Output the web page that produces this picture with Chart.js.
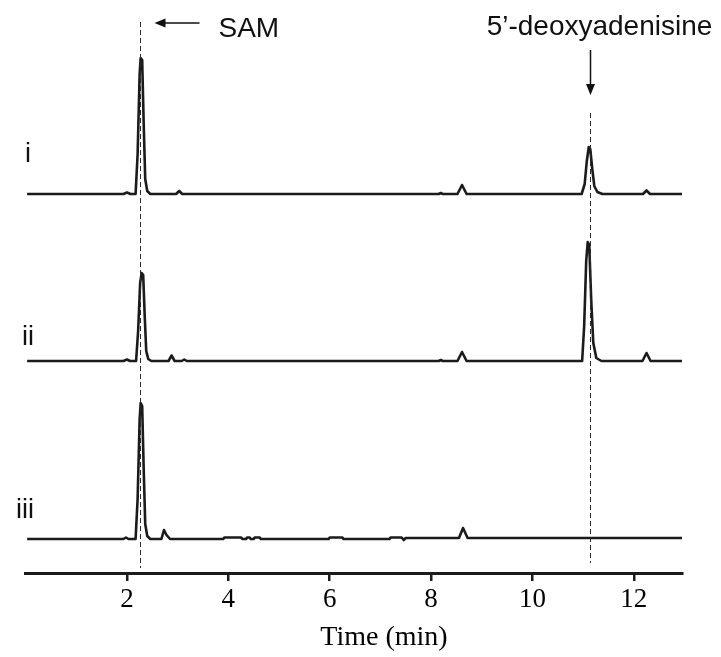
<!DOCTYPE html>
<html>
<head>
<meta charset="utf-8">
<script src="https://cdn.jsdelivr.net/npm/chart.js@4.4.1/dist/chart.umd.min.js"></script>
<style>
  html, body { margin: 0; padding: 0; background: #fff; }
</style>
</head>
<body>
<canvas id="myChart" width="721" height="657"></canvas>
<script>
// retention time (min) and detector signal for each trace
const traceITime = [0.03, 1.93, 2.0, 2.07, 2.17, 2.21, 2.25, 2.27, 2.30, 2.33, 2.36, 2.40, 2.46, 2.97, 3.03, 3.09, 8.15, 8.19, 8.23, 8.52, 8.61, 8.70, 10.97, 11.03, 11.07, 11.11, 11.14, 11.18, 11.22, 11.28, 11.38, 12.18, 12.25, 12.32, 12.95];
const traceISignal = [0, 0, 1.5, 0, 0, 40, 120, 136, 134, 70, 15, 3, 0, 0, 3, 0, 0, 1, 0, 0, 9, 0, 0, 10, 32, 47, 45, 25, 8, 2, 0, 0, 3.5, 0, 0];

const traceIITime = [0.03, 1.93, 2.0, 2.06, 2.18, 2.22, 2.26, 2.29, 2.32, 2.35, 2.38, 2.42, 2.48, 2.82, 2.88, 2.94, 3.08, 3.13, 3.18, 8.15, 8.19, 8.23, 8.52, 8.61, 8.70, 10.98, 11.02, 11.06, 11.09, 11.12, 11.16, 11.20, 11.26, 11.36, 12.17, 12.25, 12.33, 12.95];
const traceIISignal = [0, 0, 1.5, 0, 0, 30, 78, 88, 86, 45, 10, 2, 0, 0, 5.5, 0, 0, 1.5, 0, 0, 1, 0, 0, 9, 0, 0, 35, 100, 119, 116, 60, 18, 3, 0, 0, 8, 0, 0];

const traceIIITime = [0.03, 1.93, 1.98, 2.03, 2.17, 2.21, 2.25, 2.27, 2.30, 2.33, 2.36, 2.40, 2.46, 2.68, 2.73, 2.78, 2.85, 3.9, 3.92, 4.25, 4.28, 4.35, 4.37, 4.42, 4.44, 4.5, 4.52, 4.62, 4.64, 5.98, 6.0, 6.25, 6.27, 7.18, 7.2, 7.42, 7.46, 7.5, 8.55, 8.63, 8.72, 12.95];
const traceIIISignal = [0, 0, 1.5, 0, 0, 40, 120, 136, 133, 70, 15, 3, 0, 0, 9, 4, 0, 0, 1.5, 1.5, 0, 0, 1.5, 1.5, 0, 0, 1.5, 1.5, 0, 0, 1.5, 1.5, 0, 0, 1.5, 1.5, -1, 1, 1, 11, 1, 1];

const tickValues = [2, 4, 6, 8, 10, 12];
const traceLabels = ['i', 'ii', 'iii'];
const markerTimes = [2.26, 11.13];
const markerLabels = ['SAM', '5’-deoxyadenisine'];
const axisTitle = 'Time (min)';

const lineColor = '#1b1b1b';
// vertical offset of each trace so they stack like the figure
const traceBaselines = [379, 212, 34];

function buildPoints(times, signal, offset) {
    return times.map((t, i) => ({ x: t, y: signal[i] + offset }));
}

function getDataSets() {
    const traces = [
        [traceITime, traceISignal],
        [traceIITime, traceIISignal],
        [traceIIITime, traceIIISignal]
    ];
    return traces.map((tr, i) => ({
        label: traceLabels[i],
        data: buildPoints(tr[0], tr[1], traceBaselines[i]),
        borderColor: lineColor,
        borderWidth: 2.6,
        borderJoinStyle: 'round',
        pointRadius: 0,
        tension: 0,
        fill: false
    }));
}

function drawLine(ctx, x1, y1, x2, y2) {
    ctx.beginPath();
    ctx.moveTo(x1, y1);
    ctx.lineTo(x2, y2);
    ctx.stroke();
}

function drawArrow(ctx, x1, y1, x2, y2) {
    //shaft then filled head at (x2,y2)
    const ang = Math.atan2(y2 - y1, x2 - x1);
    const len = 11, half = 4.5;
    ctx.lineWidth = 1.5;
    drawLine(ctx, x1, y1, x2 - Math.cos(ang) * len * 0.6, y2 - Math.sin(ang) * len * 0.6);
    ctx.beginPath();
    ctx.moveTo(x2, y2);
    ctx.lineTo(x2 - Math.cos(ang) * len - Math.sin(ang) * half, y2 - Math.sin(ang) * len + Math.cos(ang) * half);
    ctx.lineTo(x2 - Math.cos(ang) * len + Math.sin(ang) * half, y2 - Math.sin(ang) * len - Math.cos(ang) * half);
    ctx.closePath();
    ctx.fill();
}

const annotationPlugin = {
    id: 'annotations',
    afterDatasetsDraw(chart) {
        const ctx = chart.ctx;
        const xScale = chart.scales.x;
        const samX = Math.round(xScale.getPixelForValue(markerTimes[0])) + 0.5;
        const daX = Math.round(xScale.getPixelForValue(markerTimes[1])) + 0.5;
        ctx.save();
        ctx.strokeStyle = '#2a2a2a';
        ctx.fillStyle = '#111';
        ctx.lineWidth = 1;
        ctx.setLineDash([5, 3]);
        drawLine(ctx, samX, 22, samX, 568);
        drawLine(ctx, daX, 113, daX, 563);
        ctx.setLineDash([]);
        ctx.strokeStyle = '#111';

        drawArrow(ctx, samX + 59, 23, samX + 14, 23);
        drawArrow(ctx, daX, 50, daX, 95);

        ctx.font = '28px "Liberation Sans", Arial, sans-serif';
        ctx.textBaseline = 'alphabetic';
        ctx.textAlign = 'left';
        ctx.fillText(markerLabels[0], samX + 78, 37);
        ctx.textAlign = 'center';
        ctx.fillText(markerLabels[1], daX + 9, 35);

        // trace labels
        ctx.font = '27px "Liberation Sans", Arial, sans-serif';
        ctx.fillText(traceLabels[0], 28, 162);
        ctx.fillText(traceLabels[1], 28, 345);
        ctx.fillText(traceLabels[2], 25, 518);

        // axis title (sits right of centre in the figure)
        ctx.font = '28px "Liberation Serif", "Times New Roman", serif';
        ctx.fillStyle = '#000';
        ctx.fillText(axisTitle, 384, 645);
        ctx.restore();
    }
};

const chartOptions = {
    responsive: false,
    animation: false,
    layout: {
        padding: { left: 25.6, right: 39, top: 13, bottom: 40 }
    },
    plugins: {
        legend: { display: false },
        tooltip: { enabled: false }
    },
    scales: {
        x: {
            type: 'linear',
            min: 0,
            max: 12.95,
            afterBuildTicks: (axis) => {
                axis.ticks = tickValues.map(v => ({ value: v }));
            },
            afterFit: (axis) => {
                axis.height = 44;
            },
            border: { display: true, width: 3, color: lineColor },
            grid: {
                drawOnChartArea: false,
                drawTicks: true,
                tickLength: 8,
                lineWidth: 2.5,
                color: lineColor
            },
            ticks: {
                color: '#000',
                padding: 3,
                maxRotation: 0,
                font: { family: '"Liberation Serif", "Times New Roman", serif', size: 27 }
            }
        },
        y: {
            display: false,
            min: 0,
            max: 560
        }
    }
};

const ctx = document.getElementById('myChart');
const myChart = new Chart(ctx, {
    type: 'line',
    data: { datasets: getDataSets() },
    options: chartOptions,
    plugins: [annotationPlugin]
});
</script>
</body>
</html>
